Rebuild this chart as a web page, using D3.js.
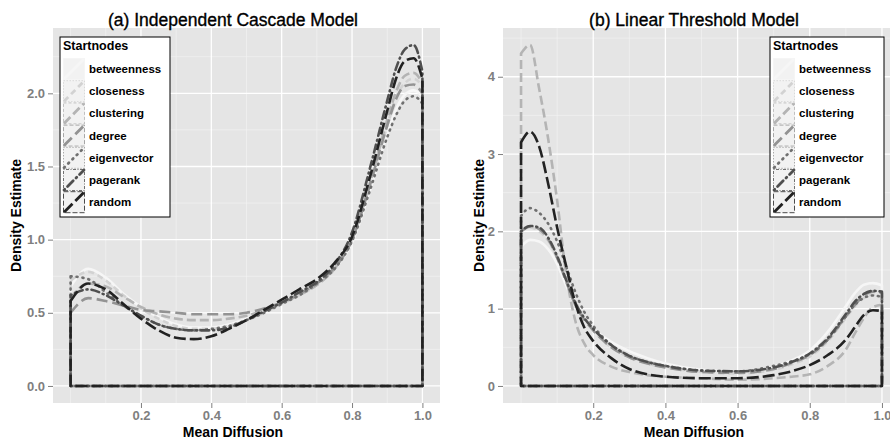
<!DOCTYPE html>
<html><head><meta charset="utf-8">
<script src="https://cdn.jsdelivr.net/npm/d3@7"></script>
<style>
body{margin:0;background:#fff;}
svg{display:block;font-family:"Liberation Sans",Arial,Helvetica,sans-serif;}
</style></head>
<body><svg id="c" width="890" height="444"></svg>
<script>
const categories = ["betweenness","closeness","clustering","degree","eigenvector","pagerank","random"];
const panelTitles = ["(a) Independent Cascade Model","(b) Linear Threshold Model"];
const legendTitle = "Startnodes";
const xLabel = "Mean Diffusion";
const yLabel = "Density Estimate";
const xTicks = [0.2,0.4,0.6,0.8,1.0];
const yTicksA = [0,0.5,1.0,1.5,2.0];
const yTicksB = [0,1,2,3,4];

const xA = [0,0.05,0.1,0.15,0.2,0.25,0.3,0.35,0.4,0.45,0.5,0.55,0.6,0.65,0.7,0.75,0.8,0.85,0.9,0.925,0.95,0.975,1.0];
const betweennessA = [0.68,0.80,0.74,0.63,0.54,0.47,0.42,0.40,0.40,0.42,0.46,0.51,0.57,0.63,0.70,0.80,0.98,1.33,1.72,1.89,1.99,2.02,1.98];
const closenessA   = [0.72,0.78,0.72,0.62,0.53,0.46,0.41,0.39,0.39,0.41,0.45,0.50,0.56,0.62,0.69,0.80,1.00,1.36,1.78,1.97,2.07,2.10,2.05];
const clusteringA  = [0.60,0.70,0.68,0.61,0.54,0.49,0.46,0.45,0.45,0.46,0.48,0.52,0.57,0.62,0.69,0.80,1.00,1.38,1.82,2.01,2.12,2.14,2.07];
const degreeA      = [0.50,0.60,0.58,0.55,0.52,0.51,0.50,0.49,0.49,0.49,0.50,0.53,0.57,0.63,0.70,0.81,1.00,1.37,1.78,1.96,2.05,2.06,2.00];
const eigenvectorA = [0.75,0.73,0.64,0.55,0.48,0.42,0.39,0.38,0.39,0.41,0.45,0.50,0.56,0.62,0.70,0.80,0.99,1.33,1.70,1.85,1.95,1.98,1.93];
const pagerankA    = [0.62,0.66,0.62,0.55,0.48,0.42,0.39,0.38,0.38,0.40,0.45,0.51,0.57,0.64,0.71,0.83,1.05,1.48,1.95,2.17,2.30,2.33,2.15];
const randomA      = [0.58,0.70,0.66,0.56,0.46,0.38,0.33,0.32,0.34,0.39,0.45,0.52,0.59,0.66,0.73,0.84,1.02,1.42,1.88,2.10,2.22,2.24,2.10];

const xB = [0,0.025,0.05,0.075,0.1,0.125,0.15,0.175,0.2,0.25,0.3,0.35,0.4,0.5,0.6,0.7,0.75,0.8,0.85,0.9,0.925,0.95,0.975,1.0];
const betweennessB = [1.80,1.89,1.87,1.77,1.58,1.30,1.05,0.86,0.74,0.57,0.45,0.36,0.29,0.21,0.19,0.25,0.33,0.46,0.70,1.03,1.20,1.31,1.33,1.30];
const closenessB   = [2.00,2.05,2.00,1.88,1.66,1.38,1.10,0.88,0.72,0.50,0.37,0.29,0.24,0.18,0.16,0.21,0.28,0.38,0.58,0.88,1.03,1.14,1.18,1.15];
const clusteringB  = [4.30,4.41,3.85,3.20,2.40,1.45,0.85,0.55,0.40,0.25,0.18,0.14,0.12,0.10,0.08,0.10,0.12,0.15,0.26,0.47,0.68,0.88,1.02,1.05];
const degreeB      = [2.00,2.06,2.03,1.90,1.66,1.35,1.05,0.86,0.72,0.50,0.37,0.29,0.24,0.18,0.17,0.22,0.30,0.40,0.60,0.90,1.05,1.17,1.22,1.20];
const eigenvectorB = [2.20,2.30,2.24,2.10,1.87,1.55,1.22,0.96,0.78,0.53,0.39,0.31,0.26,0.20,0.19,0.26,0.32,0.41,0.60,0.90,1.05,1.14,1.17,1.15];
const pagerankB    = [2.00,2.07,2.05,1.92,1.68,1.37,1.08,0.88,0.74,0.53,0.39,0.31,0.26,0.20,0.19,0.24,0.31,0.42,0.62,0.93,1.09,1.19,1.23,1.22];
const randomB      = [3.15,3.29,3.10,2.62,2.05,1.55,1.08,0.76,0.58,0.36,0.22,0.15,0.12,0.10,0.10,0.14,0.19,0.27,0.40,0.60,0.76,0.92,0.98,0.97];

const colors = ["#f6f6f6","#d2d2d2","#b4b4b4","#939393","#707070","#4f4f4f","#222222"];
const dashes = ["none","6,4","9,4","11,5","1,5","1,4,8,4","12,4"];
const legendDashes = ["none","1.5,1.5","3,2","4,2","1,2","1,1.5,3,1.5","5,2"];

const seriesA = [betweennessA,closenessA,clusteringA,degreeA,eigenvectorA,pagerankA,randomA];
const seriesB = [betweennessB,closenessB,clusteringB,degreeB,eigenvectorB,pagerankB,randomB];

const svg = d3.select("#c");

function panel(cfg){
  const {x0,x1,y0,y1,xs,ser,ymax,yTicks,yFmt,title,centerX,legendX,legendW,ylabX} = cfg;
  const x = d3.scaleLinear().domain([-0.05,1.05]).range([x0,x1]);
  const y = d3.scaleLinear().domain([-0.05*ymax, ymax*1.05]).range([y1,y0]);
  const g = svg.append("g");
  const clipId = "clip"+x0;
  svg.append("clipPath").attr("id",clipId).append("rect").attr("x",x0).attr("y",y0).attr("width",x1-x0).attr("height",y1-y0);
  g.append("rect").attr("x",x0).attr("y",y0).attr("width",x1-x0).attr("height",y1-y0).attr("fill","#e5e5e5");
  const xMinor = [0,0.1,0.3,0.5,0.7,0.9];
  const step = yTicks[1]-yTicks[0];
  const yMinor = [];
  for(let v=step/2; v<ymax*1.05; v+=step) yMinor.push(v);
  g.selectAll(".xm").data(xMinor).enter().append("line")
    .attr("x1",d=>x(d)).attr("x2",d=>x(d)).attr("y1",y0).attr("y2",y1)
    .attr("stroke","#f2f2f2").attr("stroke-width",0.7);
  g.selectAll(".ym").data(yMinor).enter().append("line")
    .attr("y1",d=>y(d)).attr("y2",d=>y(d)).attr("x1",x0).attr("x2",x1)
    .attr("stroke","#f2f2f2").attr("stroke-width",0.7);
  g.selectAll(".xM").data(xTicks).enter().append("line")
    .attr("x1",d=>x(d)).attr("x2",d=>x(d)).attr("y1",y0).attr("y2",y1)
    .attr("stroke","#ffffff").attr("stroke-width",1.3);
  g.selectAll(".yM").data(yTicks).enter().append("line")
    .attr("y1",d=>y(d)).attr("y2",d=>y(d)).attr("x1",x0).attr("x2",x1)
    .attr("stroke","#ffffff").attr("stroke-width",1.3);

  const area = d3.area().x(d=>x(d[0])).y0(y(0)).y1(d=>y(d[1])).curve(d3.curveMonotoneX);
  const cg = g.append("g").attr("clip-path",`url(#${clipId})`);
  ser.forEach((vals,i)=>{
    const pts = xs.map((xx,j)=>[xx,vals[j]]);
    cg.append("path").attr("d",area(pts)).attr("fill","none")
      .attr("stroke",colors[i]).attr("stroke-width",2.6)
      .attr("stroke-dasharray",dashes[i]).attr("stroke-linecap",(i==4||i==5)?"round":"butt")
      .attr("stroke-linejoin","round");
  });

  const styleTick = sel => sel.attr("fill","#7f7f7f").style("font-size","13px").style("font-weight","bold")
      .style("font-family","Liberation Sans, Arial, sans-serif");
  const ax = d3.axisBottom(x).tickValues(xTicks).tickFormat(d3.format(".1f")).tickSize(5).tickPadding(3);
  const axg = g.append("g").attr("transform",`translate(0,${y1})`).call(ax);
  axg.select(".domain").remove();
  axg.selectAll("line").attr("stroke","#7f7f7f");
  styleTick(axg.selectAll("text"));
  const ay = d3.axisLeft(y).tickValues(yTicks).tickFormat(d3.format(yFmt)).tickSize(5).tickPadding(3);
  const ayg = g.append("g").attr("transform",`translate(${x0},0)`).call(ay);
  ayg.select(".domain").remove();
  ayg.selectAll("line").attr("stroke","#7f7f7f");
  styleTick(ayg.selectAll("text"));

  g.append("text").attr("x",centerX).attr("y",25.5).attr("text-anchor","middle")
    .style("font-size","17.5px").attr("fill","#000").attr("stroke","#000").attr("stroke-width",0.35).text(title);
  g.append("text").attr("x",centerX).attr("y",437).attr("text-anchor","middle")
    .style("font-size","14px").style("font-weight","bold").text(xLabel);
  g.append("text").attr("transform",`translate(${ylabX},${(y0+y1)/2}) rotate(-90)`).attr("text-anchor","middle")
    .style("font-size","14px").style("font-weight","bold").text(yLabel);

  const lx = legendX, ly = 37, lh = 180;
  const lg = g.append("g");
  lg.append("rect").attr("x",lx).attr("y",ly).attr("width",legendW).attr("height",lh)
    .attr("fill","#fff").attr("stroke","#000").attr("stroke-width",1);
  lg.append("text").attr("x",lx+3).attr("y",ly+13).style("font-size","12.5px").style("font-weight","bold").text(legendTitle);
  categories.forEach((c,i)=>{
    const kx = lx+3, ky = ly+21+i*22.2, kw=22, kh=22;
    lg.append("rect").attr("x",kx).attr("y",ky).attr("width",kw).attr("height",kh).attr("fill","#f2f2f2");
    lg.append("rect").attr("x",kx+0.5).attr("y",ky+0.5).attr("width",kw-1).attr("height",kh-1)
      .attr("fill","none").attr("stroke",colors[i]).attr("stroke-width",0.8).attr("stroke-dasharray",legendDashes[i]);
    lg.append("line").attr("x1",kx+1).attr("y1",ky+kh-1).attr("x2",kx+kw-1).attr("y2",ky+1)
      .attr("stroke",colors[i]).attr("stroke-width",2.8).attr("stroke-dasharray",dashes[i])
      .attr("stroke-linecap",(i==4||i==5)?"round":"butt");
    lg.append("text").attr("x",lx+29).attr("y",ky+kh/2+4).style("font-size","11.5px").style("font-weight","bold").text(c);
  });
}

panel({x0:53,x1:440,y0:28,y1:403,xs:xA,ser:seriesA,ymax:2.33,yTicks:yTicksA,yFmt:".1f",
  title:panelTitles[0],centerX:233,legendX:60,legendW:110,ylabX:21});
panel({x0:503,x1:900,y0:28,y1:403,xs:xB,ser:seriesB,ymax:4.41,yTicks:yTicksB,yFmt:"d",
  title:panelTitles[1],centerX:694,legendX:770,legendW:114,ylabX:484});
</script></body></html>
